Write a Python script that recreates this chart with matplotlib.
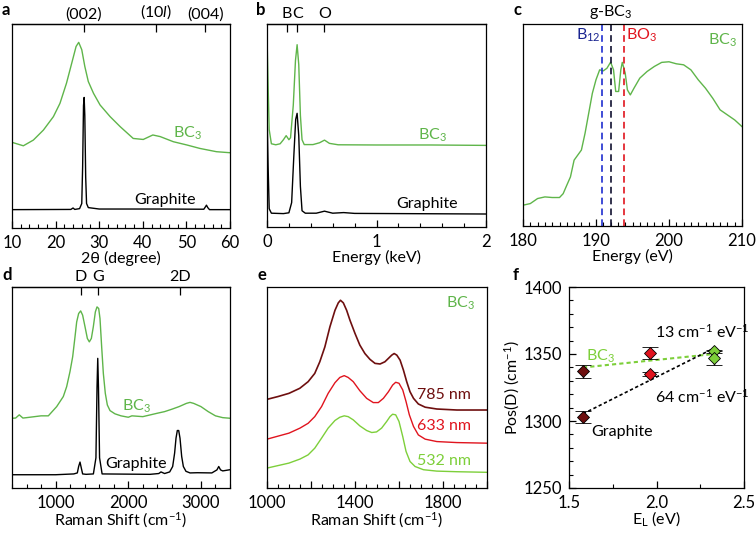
import matplotlib
matplotlib.use("Agg")
import matplotlib.pyplot as plt
import numpy as np
from matplotlib.ticker import MultipleLocator, FormatStrFormatter

plt.rcParams['font.family'] = ['Lato', 'DejaVu Sans']
plt.rcParams['font.size'] = 11.5
plt.rcParams['xtick.labelsize'] = 12
plt.rcParams['ytick.labelsize'] = 12
plt.rcParams['mathtext.fontset'] = 'custom'
plt.rcParams['mathtext.rm'] = 'Lato'
plt.rcParams['mathtext.it'] = 'Lato:italic'
plt.rcParams['axes.linewidth'] = 0.9

GREEN = '#5fb54a'
LGREEN = '#7dcf3a'
RED = '#e0141e'
DRED = '#6e0f0f'
BLUE = '#1f2fd0'

# ---- a: XRD ----
xrd_bc3_x = [10, 12.6, 14.9, 17.2, 19.5, 21, 22.5, 23.7, 24.7, 25.3, 26, 26.7, 27.5, 28.7, 30.2, 32.5,
             34.8, 37.8, 40.1, 42.3, 44, 47, 50.1, 53.1, 56.9, 60]
xrd_bc3_y = [42.0, 40.3, 43.1, 48.0, 54.6, 61.1, 71, 80.8, 89, 91, 87.4, 79.2, 71.8, 66, 60.3, 54.6,
             49.7, 43.9, 43.4, 45.6, 44.8, 42.3, 40.7, 39, 37.4, 36.9]
xrd_gr_x = [10, 23.5, 24, 24.4, 25.5, 26.0, 26.2, 26.4, 26.55, 26.7, 26.9, 27.1, 27.5, 30, 44, 54, 54.4,
            54.6, 54.9, 55.3, 60]
xrd_gr_y = [9.0, 9.1, 9.8, 9.1, 9.5, 12, 30, 60, 64, 55, 25, 12, 10, 9.3, 9.3, 9.2, 10.5,
            11.2, 10, 9.0, 9.0]
xrd_peak_pos = [26.5, 43, 54.3]
xrd_peak_lab = ['(002)', '(10$l$)', '(004)']

# ---- b: EDS ----
eds_bc3_x = [0, 0.01, 0.02, 0.04, 0.08, 0.12, 0.15, 0.175, 0.2, 0.215, 0.24, 0.26, 0.275, 0.29, 0.305,
             0.32, 0.34, 0.42, 0.48, 0.525, 0.57, 0.65, 1.0, 1.5, 2.0]
eds_bc3_y = [94, 70, 48, 41, 40.5, 41, 43, 45, 43, 44, 60, 82, 89.8, 80, 55,
             43, 40.6, 40.6, 41.5, 42.8, 41.2, 40.5, 40.4, 40.4, 40.2]
eds_gr_x = [0, 0.01, 0.02, 0.04, 0.15, 0.2, 0.225, 0.245, 0.262, 0.275, 0.29, 0.305, 0.32, 0.35,
            0.45, 0.525, 0.6, 0.7, 0.8, 2.0]
eds_gr_y = [58, 30, 9, 6.8, 6.6, 7, 12, 35, 53, 56, 45, 20, 8, 6.8,
            6.8, 7.8, 6.8, 7.1, 6.7, 6.4]
eds_el_pos = [0.183, 0.277, 0.525]
eds_el_lab = ['B', 'C', 'O']

# ---- c: EELS ----
eels_x = [180, 181, 182, 183, 184, 185, 185.5, 186, 186.5, 187, 188, 188.5, 189, 189.5, 190, 190.5,
          191, 191.5, 192, 192.4, 192.7, 193.1, 193.4, 193.6, 194, 194.3, 194.7, 195.2, 196, 197,
          198, 199, 200, 201, 202, 203, 204, 205, 206, 207, 208, 209, 210]
eels_y = [10.3, 11.1, 13.6, 14.4, 14.1, 14.1, 16, 20.2, 24.3, 32.6, 37.6, 45.9, 55.8, 65.7, 72.4, 77.3,
          76.8, 78.1, 81.1, 77.3, 66.6, 66.6, 77.3, 81, 75.7, 67.4, 64.9, 68.2, 73.2, 76.5,
          79, 81, 81.3, 80.3, 79.8, 77.3, 72.4, 68.2, 63.2, 57.5, 55, 52.5, 49.2]
eels_b12 = 190.87
eels_gbc3 = 192.05
eels_bo3 = 193.8

# ---- d: Raman ----
ram_bc3_x = [400, 450, 500, 550, 600, 800, 900, 1015, 1106, 1152, 1198, 1235, 1267, 1290, 1317, 1345,
             1372, 1405, 1437, 1464, 1492, 1519, 1547, 1570, 1593, 1611, 1634, 1657, 1684, 1712, 1749,
             1817, 1900, 2000, 2050, 2200, 2400, 2500, 2600, 2700, 2800, 2850, 2900, 3000, 3100, 3200,
             3300, 3400]
ram_bc3_y = [34.7, 34.8, 36.4, 34.8, 35, 35.9, 35.9, 40.5, 45.5, 50.4, 57.9, 65.3, 75.2, 82.6, 86.8, 88.1,
             86, 80.2, 74.4, 72.7, 74.4, 80.2, 87.6, 90.1, 89.3, 84.3, 70.2, 57, 47.1, 41.3, 38.5,
             36.9, 35.9, 35.2, 35.9, 35.5, 37.2, 38, 39.2, 40.5, 42.1, 42.6, 42.1, 40.5, 38, 35.9,
             35, 34.7]
ram_gr_x = [400, 1000, 1250, 1299, 1317, 1336, 1354, 1372, 1420, 1520, 1555, 1570, 1580, 1590, 1605,
            1640, 2300, 2420, 2450, 2500, 2570, 2611, 2638, 2657, 2675, 2694, 2712, 2735, 2758, 2794,
            2850, 2950, 3150, 3220, 3245, 3270, 3300, 3400]
ram_gr_y = [6.6, 6.6, 7, 7.5, 10.7, 12.9, 9.9, 7, 6.8, 7, 15, 50, 64.5, 50, 15,
            7, 6.8, 7.2, 8, 7.2, 8, 10.7, 17.4, 24.8, 28.6, 28.6, 24.8, 15.7, 10.7, 8.3,
            7.5, 7.6, 7.5, 9, 10.7, 9, 8.5, 9.1]
ram_band_pos = [1350, 1580, 2710]
ram_band_lab = ['D', 'G', '2D']

# ---- e: multi-wavelength Raman of BC3 ----
mw_x785 = [1000, 1050, 1100, 1149, 1187, 1217, 1240, 1263, 1286, 1309, 1324, 1334, 1347, 1362, 1377,
           1400, 1422, 1445, 1468, 1491, 1514, 1536, 1552, 1567, 1578, 1590, 1605, 1620, 1635, 1650,
           1666, 1688, 1719, 1772, 1863, 2000]
mw_y785 = [44.1, 45.5, 47.1, 49.6, 52.9, 57.0, 62.8, 70.2, 80.2, 88.4, 92.1, 93.4, 92.1, 88.4, 83.5,
           76.9, 71.1, 66.9, 64, 62, 61.7, 62.8, 64.5, 66.1, 66.9, 66.1, 63.6, 58.7, 52.9, 47.9,
           44.6, 41.8, 40.2, 39.3, 38.8, 38.8]
mw_x633 = [1000, 1100, 1150, 1187, 1217, 1248, 1278, 1309, 1331, 1351, 1369, 1392, 1422, 1453, 1483,
           1506, 1529, 1552, 1571, 1585, 1600, 1617, 1632, 1647, 1666, 1688, 1719, 1772, 1863, 2000]
mw_y633 = [24.3, 27.3, 29.8, 32.2, 35.5, 40.5, 47.1, 52.4, 55.0, 55.9, 55.0, 52.9, 48.4, 44.6, 42.5,
           42.5, 44.6, 47.9, 51.2, 52.6, 52.1, 48.8, 43.0, 36.4, 30.6, 26.4, 24.3, 23.1, 22.6, 22.3]
mw_x532 = [1000, 1100, 1150, 1187, 1217, 1248, 1278, 1309, 1331, 1351, 1369, 1392, 1422, 1453, 1476,
           1498, 1521, 1544, 1559, 1571, 1585, 1600, 1617, 1632, 1650, 1673, 1711, 1772, 1863, 2000]
mw_y532 = [9.9, 12.4, 14.4, 16.5, 19.8, 24.8, 29.8, 33.6, 35.2, 35.9, 35.5, 33.9, 30.9, 28.6, 27.6,
           27.9, 29.8, 33.1, 35.5, 36.7, 36.4, 33.1, 25.6, 18.2, 13.2, 10.7, 9.1, 8.4, 8.1, 7.8]

# ---- f: D-band dispersion ----
el = [1.58, 1.96, 2.33]
posd_gr = [1303, 1335, 1352]
err_gr = [4.5, 1.6, 1.2]
posd_bc3 = [1337, 1351, 1347]
err_bc3 = [5, 4.5, 5]
pt_colors = [DRED, RED, LGREEN]

fig = plt.figure(figsize=(7.56, 5.33), dpi=100)

def box(l, t, r, b):
    W, H = 756, 533
    return fig.add_axes([l / W, 1 - b / H, (r - l) / W, (b - t) / H])

def style(ax, major, minor):
    ax.set_yticks([])
    ax.xaxis.set_major_locator(MultipleLocator(major))
    ax.xaxis.set_minor_locator(MultipleLocator(minor))
    ax.tick_params(axis='x', which='major', direction='in', length=5, width=0.9, pad=5)
    ax.tick_params(axis='x', which='minor', direction='in', length=3, width=0.8)

def top_marks(ax, pos, lab):
    sec = ax.secondary_xaxis('top')
    sec.set_xticks(pos, lab)
    sec.tick_params(direction='in', length=6, width=0.9, pad=2, labelsize=11.5)

# a
ax = box(12, 24, 230, 228)
ax.plot(xrd_bc3_x, xrd_bc3_y, color=GREEN, lw=1)
ax.plot(xrd_gr_x, xrd_gr_y, color='black', lw=1)
ax.set_xlim(10, 60)
ax.set_ylim(0, 100)
style(ax, 10, 2)
top_marks(ax, xrd_peak_pos, xrd_peak_lab)
ax.set_xlabel('2θ (degree)', labelpad=0)
ax.text(50.2, 46.4, 'BC$_3$', color=GREEN, ha='center', va='center')
ax.text(45, 13.6, 'Graphite', ha='center', va='center')

# b
ax = box(267, 24, 486, 227)
ax.plot(eds_bc3_x, eds_bc3_y, color=GREEN, lw=1)
ax.plot(eds_gr_x, eds_gr_y, color='black', lw=1)
ax.set_xlim(0, 2)
ax.set_ylim(0, 100)
style(ax, 1, 0.2)
top_marks(ax, eds_el_pos, eds_el_lab)
ax.set_xlabel('Energy (keV)', labelpad=0)
ax.text(1.51, 45.3, 'BC$_3$', color=GREEN, ha='center', va='center')
ax.text(1.46, 11.2, 'Graphite', ha='center', va='center')

# c
ax = box(523, 24, 742, 226)
ax.plot(eels_x, eels_y, color=GREEN, lw=1)
ax.axvline(eels_b12, color=BLUE, ls=(0, (4, 2.5)), lw=1.2)
ax.axvline(eels_gbc3, color='#101030', ls=(0, (4, 2.5)), lw=1.2)
ax.axvline(eels_bo3, color=RED, ls=(0, (4, 2.5)), lw=1.2)
ax.set_xlim(180, 210)
ax.set_ylim(0, 100)
style(ax, 10, 1)
ax.set_xlabel('Energy (eV)', labelpad=0)
ax.text(eels_gbc3 - 0.1, 101.5, 'g-BC$_3$', ha='center', va='bottom')
ax.text(eels_b12 - 0.2, 94.5, 'B$_{12}$', color='#1a2590', ha='right', va='center')
ax.text(eels_bo3 + 0.3, 94.5, 'BO$_3$', color=RED, ha='left', va='center')
ax.text(207.3, 91.7, 'BC$_3$', color=GREEN, ha='center', va='center')

# d
ax = box(12, 287, 230, 488)
ax.plot(ram_bc3_x, ram_bc3_y, color=GREEN, lw=1)
ax.plot(ram_gr_x, ram_gr_y, color='black', lw=1)
ax.set_xlim(400, 3400)
ax.set_ylim(0, 100)
style(ax, 1000, 200)
top_marks(ax, ram_band_pos, ram_band_lab)
ax.set_xlabel('Raman Shift (cm$^{-1}$)', labelpad=0)
ax.text(2110, 40.8, 'BC$_3$', color=GREEN, ha='center', va='center')
ax.text(2100, 12, 'Graphite', ha='center', va='center')

# e
ax = box(267, 287, 487, 488)
ax.plot(mw_x785, mw_y785, color=DRED, lw=1.2)
ax.plot(mw_x633, mw_y633, color=RED, lw=1)
ax.plot(mw_x532, mw_y532, color=LGREEN, lw=1)
ax.set_xlim(1000, 2000)
ax.set_ylim(0, 100)
style(ax, 200, 50)
ax.set_xticks([1000, 1200, 1400, 1600, 1800, 2000], ['1000', '', '1400', '', '1800', ''])
ax.set_xlabel('Raman Shift (cm$^{-1}$)', labelpad=0)
ax.text(1878, 91.7, 'BC$_3$', color=GREEN, ha='center', va='center')
ax.text(1805, 46.3, '785 nm', color=DRED, ha='center', va='center')
ax.text(1805, 31, '633 nm', color=RED, ha='center', va='center')
ax.text(1805, 13.6, '532 nm', color=LGREEN, ha='center', va='center')

# f
ax = box(569, 287, 744, 488)
fit_x = np.array([el[0], el[-1]])
k_bc3, b_bc3 = np.polyfit(el, posd_bc3, 1)
k_gr, b_gr = np.polyfit(el, posd_gr, 1)
ax.plot(fit_x, k_bc3 * fit_x + b_bc3, color=LGREEN, ls=(0, (2, 1.5)), lw=1.5, zorder=1)
ax.plot(fit_x, k_gr * fit_x + b_gr, color='black', ls=(0, (2, 1.5)), lw=1.2, zorder=1)
for x, y, e, c in zip(el, posd_gr, err_gr, pt_colors):
    ax.errorbar(x, y, yerr=e, fmt='D', color=c, mec='black', mew=0.6, ms=6,
                ecolor='black', elinewidth=1, capsize=6, capthick=1.2, zorder=3)
for x, y, e, c in zip(el, posd_bc3, err_bc3, pt_colors):
    ax.errorbar(x, y, yerr=e, fmt='D', color=c, mec='black', mew=0.6, ms=6,
                ecolor='black', elinewidth=1, capsize=6, capthick=1.2, zorder=3)
ax.set_xlim(1.5, 2.5)
ax.set_ylim(1250, 1400)
ax.xaxis.set_major_locator(MultipleLocator(0.5))
ax.xaxis.set_minor_locator(MultipleLocator(0.25))
ax.yaxis.set_major_locator(MultipleLocator(50))
ax.yaxis.set_minor_locator(MultipleLocator(10))
ax.xaxis.set_major_formatter(FormatStrFormatter('%.1f'))
ax.tick_params(which='major', direction='in', length=5, width=0.9, pad=5)
ax.tick_params(which='minor', direction='in', length=3, width=0.8)
ax.set_xlabel('E$_\\mathrm{L}$ (eV)', labelpad=-1)
ax.set_ylabel('Pos(D) (cm$^{-1}$)', labelpad=1)
ax.text(1.99, 1366.5, '13 cm$^{-1}$ eV$^{-1}$', ha='left', va='center')
ax.text(1.99, 1318, '64 cm$^{-1}$ eV$^{-1}$', ha='left', va='center')
ax.text(1.68, 1348, 'BC$_3$', color=LGREEN, ha='center', va='center')
ax.text(1.80, 1292, 'Graphite', ha='center', va='center')

# panel letters
for lx, ly, s in [(2, 10, 'a'), (256, 10, 'b'), (513, 10, 'c'),
                  (2, 275, 'd'), (258, 275, 'e'), (513, 275, 'f')]:
    fig.text(lx / 756, 1 - ly / 533, s, fontweight='bold', fontsize=12, va='center', ha='left')

fig.savefig('out.png', dpi=100)
